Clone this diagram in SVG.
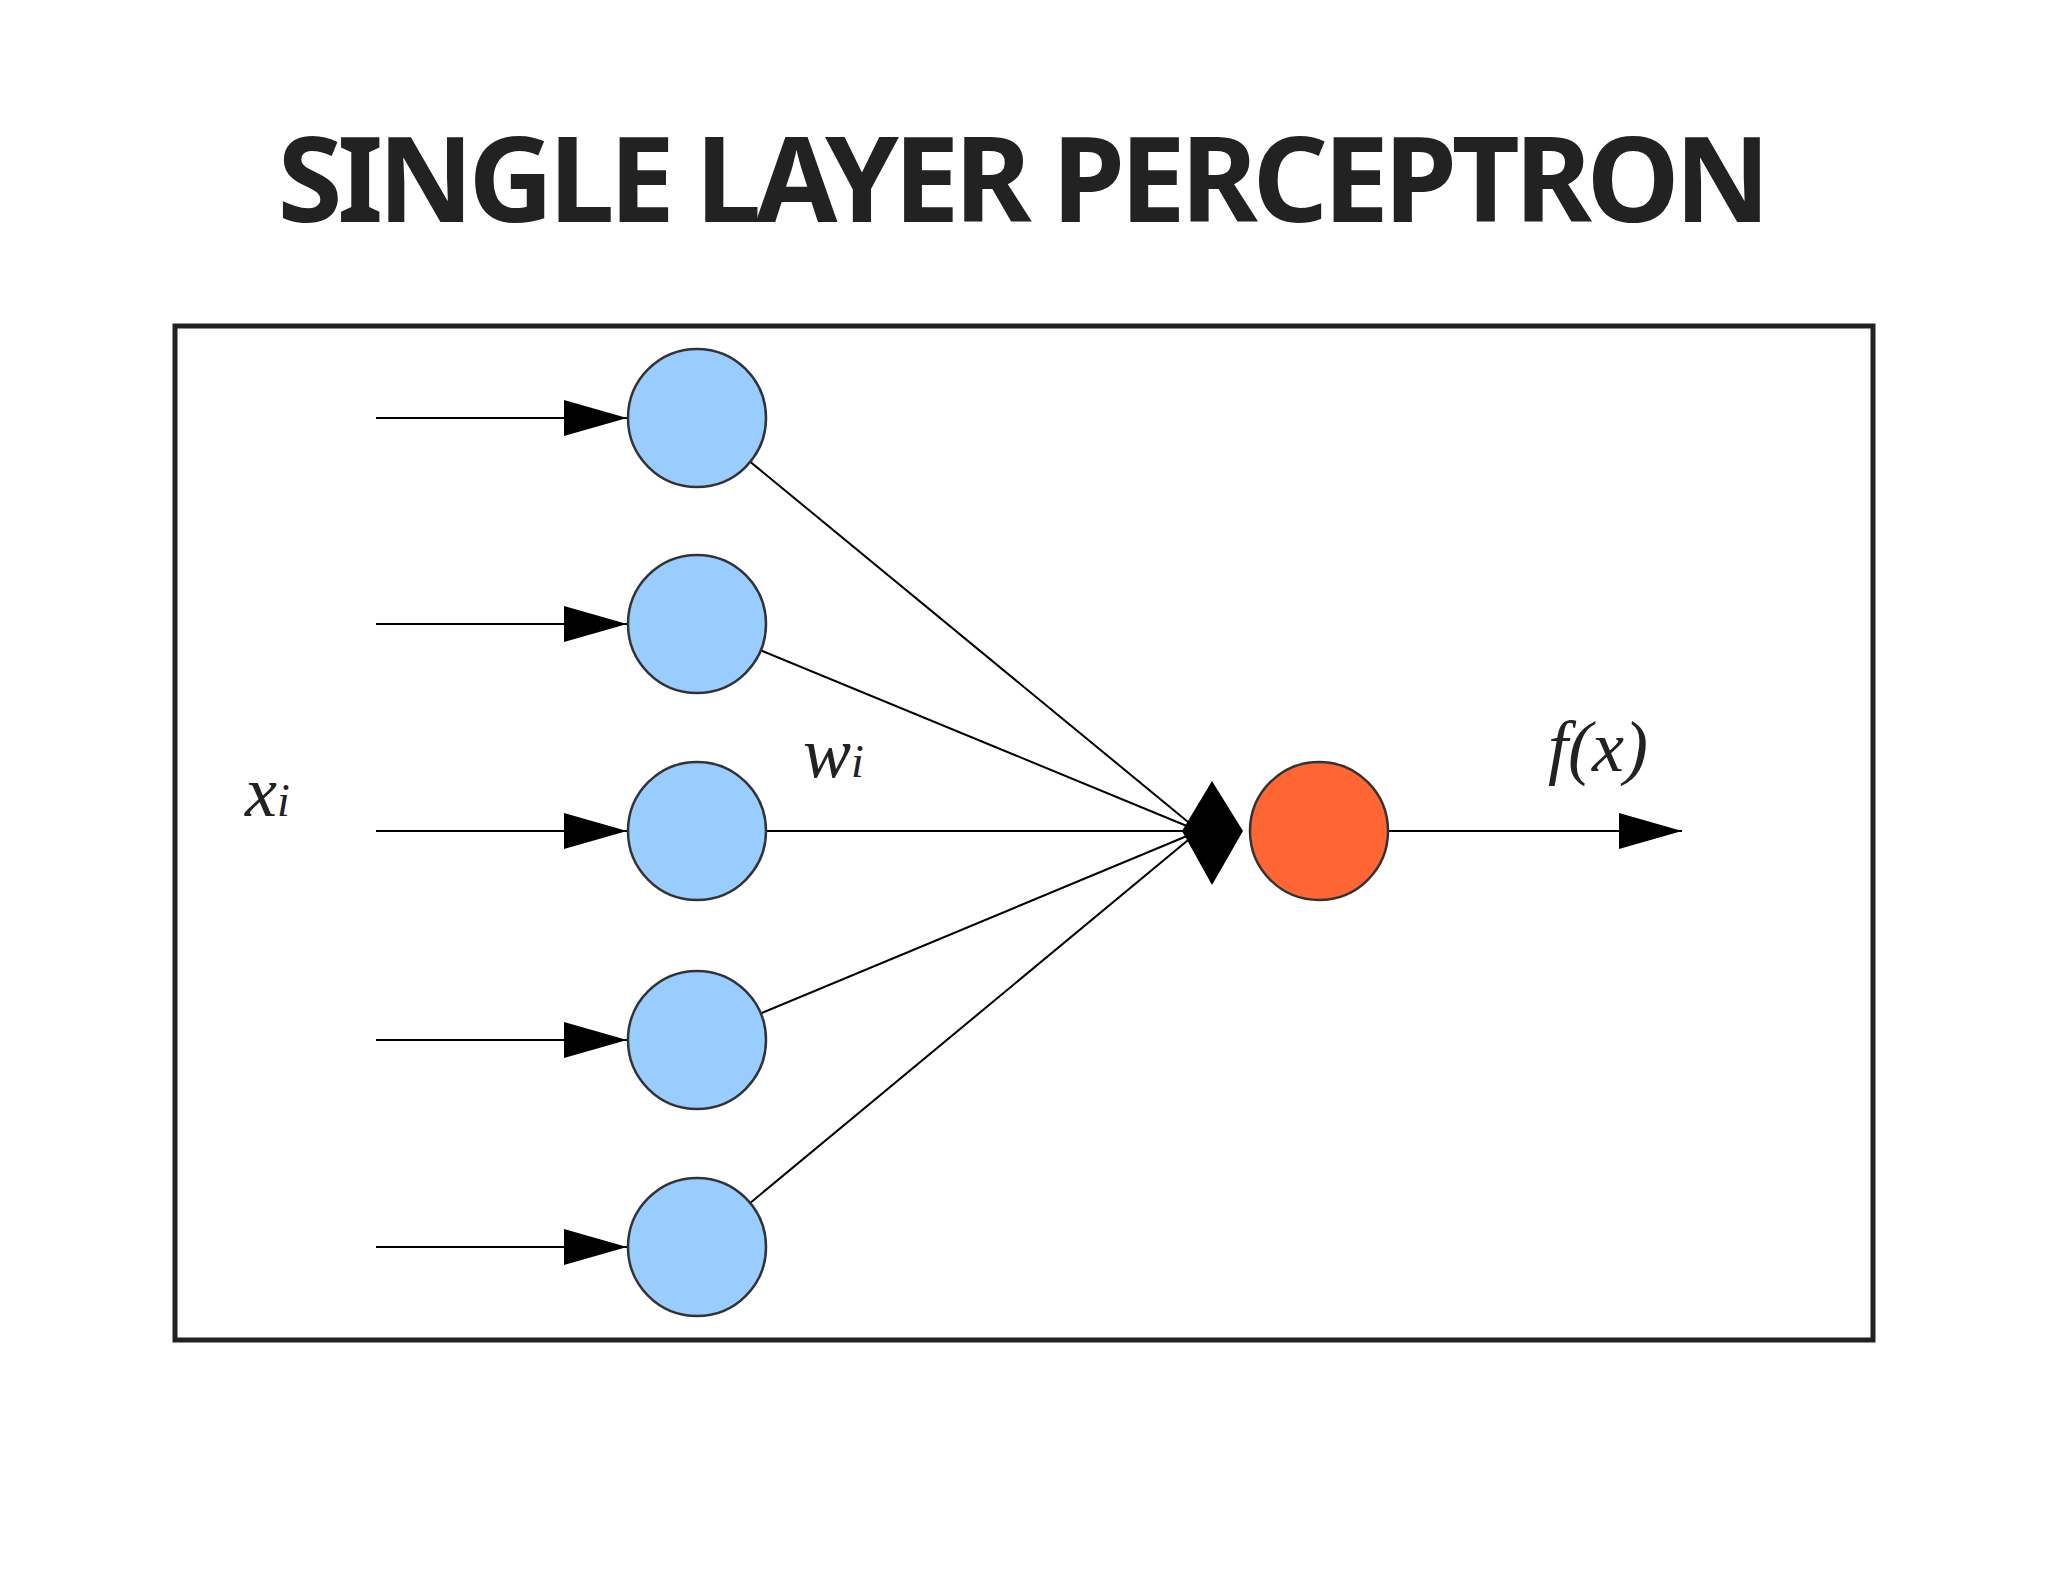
<svg xmlns="http://www.w3.org/2000/svg" width="2048" height="1582" viewBox="0 0 2048 1582">
<defs>
<style>
.t{font-family:"Noto Sans","Open Sans",sans-serif;font-weight:bold;font-size:118px;fill:#222}
.in{fill:#99ccff;stroke:#333;stroke-width:2.5}
.ln{stroke:#000;stroke-width:2;fill:none}
.m{font-family:"Liberation Serif",serif;font-style:italic;fill:#222}
</style>
<marker id="ah" markerWidth="63" markerHeight="36" refX="63" refY="18" markerUnits="userSpaceOnUse" orient="auto"><path d="M0,0 L63,18 L0,36 Z" fill="#000"/></marker>
</defs>
<rect width="2048" height="1582" fill="#fff"/>
<text class="t" x="1024" y="222" text-anchor="middle" textLength="1493">SINGLE LAYER PERCEPTRON</text>
<rect x="175" y="326" width="1698" height="1014" fill="#fff" stroke="#222" stroke-width="5"/>
<g id="connectors">
<path class="ln" d="M376,418H627" marker-end="url(#ah)"/>
<path class="ln" d="M376,624H627" marker-end="url(#ah)"/>
<path class="ln" d="M376,831H627" marker-end="url(#ah)"/>
<path class="ln" d="M376,1040H627" marker-end="url(#ah)"/>
<path class="ln" d="M376,1247H627" marker-end="url(#ah)"/>
<path class="ln" d="M697,418L1199,831M697,624L1199,831M697,831L1199,831M697,1040L1199,831M697,1247L1199,831"/>
<path class="ln" d="M1388,831H1682" marker-end="url(#ah)"/>
</g>
<g id="n1"><circle class="in" cx="697" cy="418" r="69"/></g>
<g id="n2"><circle class="in" cx="697" cy="624" r="69"/></g>
<g id="n3"><circle class="in" cx="697" cy="831" r="69"/></g>
<g id="n4"><circle class="in" cx="697" cy="1040" r="69"/></g>
<g id="n5"><circle class="in" cx="697" cy="1247" r="69"/></g>
<g id="sum"><path d="M1212,781L1243,831L1212,885L1182,831Z" fill="#000"/></g>
<g id="out"><circle cx="1319" cy="831" r="69" fill="#ff6633" stroke="#333" stroke-width="2.5"/></g>
<text class="m" x="245" y="816" font-size="72">x<tspan font-size="46">i</tspan></text>
<text class="m" x="803" y="777" font-size="72">w<tspan font-size="46">i</tspan></text>
<text class="m" x="1548" y="771" font-size="72">f(x)</text>
</svg>
